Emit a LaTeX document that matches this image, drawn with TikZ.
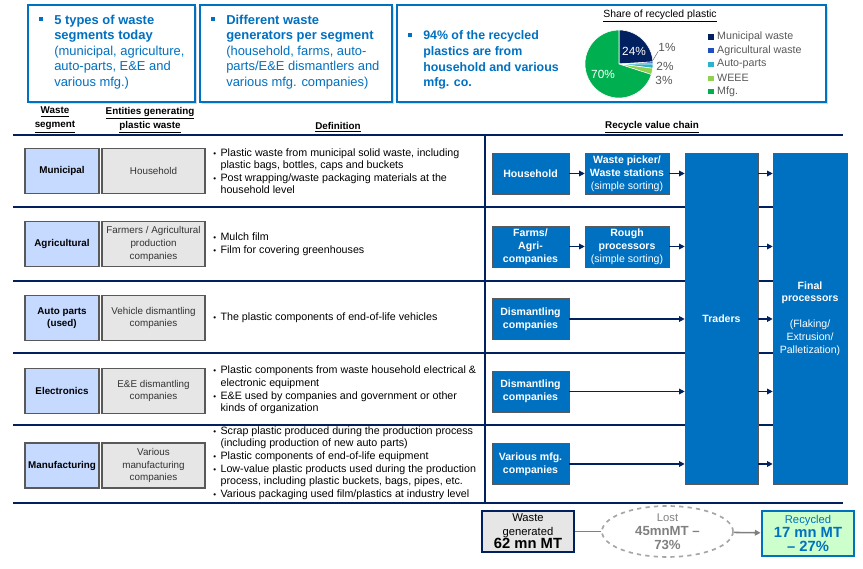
\documentclass[tikz,border=0pt]{standalone}
\usepackage{fontspec}
\setmainfont{Liberation Sans}
\usetikzlibrary{arrows.meta,positioning,calc,shadows,shapes.geometric}

\definecolor{mainblue}{HTML}{0070C0}
\definecolor{navy}{HTML}{002060}
\definecolor{segblue}{HTML}{C6D9FF}
\definecolor{entgrey}{HTML}{E6E6E6}
\definecolor{edgegrey}{HTML}{595959}
\definecolor{txtgrey}{HTML}{595959}
\definecolor{lostgrey}{HTML}{A6A6A6}
\definecolor{recgreen}{HTML}{CCFFCC}
\definecolor{pieagri}{HTML}{1F4FC1}
\definecolor{pieauto}{HTML}{2DB3C9}
\definecolor{pieweee}{HTML}{92D050}
\definecolor{piemfg}{HTML}{00B050}

\newcommand{\fs}[2]{\fontsize{#1}{#2}\selectfont}
\newcommand{\bitem}{\makebox[5.2pt][l]{\scalebox{0.75}{\textbullet}}}
\newcommand{\bcont}{\hspace*{5.2pt}}

\begin{document}
\begin{tikzpicture}[
x=0.025cm, y=-0.025cm,
topbox/.style={draw=mainblue, line width=2pt, fill=white, inner sep=0,
  drop shadow={shadow xshift=1.5pt, shadow yshift=-1.5pt, opacity=0.3}},
tbtext/.style={anchor=north west, align=left, inner sep=0, text=mainblue, font=\fs{9.2}{11}},
sqbullet/.style={fill=mainblue, inner sep=0, minimum size=3.3pt},
hdr/.style={font=\fs{7}{10}\bfseries, align=center, inner sep=0},
segbox/.style={draw=edgegrey, line width=1.4pt, fill=segblue, minimum width=1.85cm, minimum height=1.125cm,
  font=\fs{7}{9}\bfseries, align=center, inner sep=0},
entbox/.style={draw=edgegrey, line width=1.4pt, fill=entgrey, minimum width=2.575cm, minimum height=1.125cm,
  font=\fs{7}{9}, align=center, text=black!80, inner sep=0},
deftext/.style={anchor=west, align=left, inner sep=0, font=\fs{7.6}{8.9}},
chain/.style={draw=edgegrey, fill=mainblue, text=white, font=\fs{7.5}{9.2}\bfseries, align=center,
  minimum width=1.925cm, minimum height=1.025cm, inner sep=1pt},
rule/.style={navy, line width=0.9pt},
arr/.style={navy, line width=0.8pt, -{Triangle[length=4pt,width=4pt]}},
legsq/.style={inner sep=0, minimum size=3.6pt},
legtext/.style={font=\fs{7.6}{9}, text=txtgrey, inner sep=0, anchor=west},
pielab/.style={font=\fs{8.4}{9}, inner sep=0},
greyline/.style={draw=gray, line width=1.1pt},
greyarr/.style={greyline, -{Triangle[length=4pt,width=4pt]}}
]
\useasboundingbox (0,0) rectangle (863,569);

% Top summary boxes
\node[topbox, minimum width=4.175cm, minimum height=2.425cm] (tb1) at (111.5,53.5) {};
\node[topbox, minimum width=4.8cm, minimum height=2.425cm] (tb2) at (296,53.5) {};
\node[topbox, minimum width=10.725cm, minimum height=2.425cm] (tb3) at (611.5,53.5) {};

\node[sqbullet] (b1) at (41,19) {};
\node[tbtext] (t1) at (54,14.5) {\bfseries 5 types of waste\\\bfseries segments today\\(municipal, agriculture,\\auto-parts, E\&E and\\various mfg.)};
\node[sqbullet] (b2) at (213,19) {};
\node[tbtext] (t2) at (226,14.5) {\bfseries Different waste\\\bfseries generators per segment\\(household, farms, auto-\\parts/E\&E dismantlers and\\various mfg. companies)};
\node[sqbullet] (b3) at (410,35) {};
\node[tbtext, font=\fs{8.8}{11.2}\bfseries] (t3) at (423,30.5) {94\% of the recycled\\plastics are from\\household and various\\mfg. co.};

% Pie chart
\node[font=\fs{7.4}{9}, inner sep=0] (ptitle) at (660,16) {\underline{Share of recycled plastic}};
\begin{scope}[shift={(619,64)}, x=0.025cm, y=0.025cm, draw=white, line width=0.4pt]
\filldraw[fill=navy] (0,0) -- (90:34) arc[start angle=90, end angle=3.6, radius=34] -- cycle;
\filldraw[fill=pieagri] (0,0) -- (3.6:34) arc[start angle=3.6, end angle=0, radius=34] -- cycle;
\filldraw[fill=pieauto] (0,0) -- (0:34) arc[start angle=0, end angle=-7.2, radius=34] -- cycle;
\filldraw[fill=pieweee] (0,0) -- (-7.2:34) arc[start angle=-7.2, end angle=-18, radius=34] -- cycle;
\filldraw[fill=piemfg] (0,0) -- (-18:34) arc[start angle=-18, end angle=-270, radius=34] -- cycle;
\end{scope}
\node[pielab, text=white] (p24) at (634,51) {24\%};
\node[pielab, text=white] (p70) at (603,74) {70\%};
\node[pielab, text=txtgrey] (p1) at (667,47) {1\%};
\node[pielab, text=txtgrey] (p2) at (665,66) {2\%};
\node[pielab, text=txtgrey] (p3) at (664,80) {3\%};
\coordinate (l1) at (653,60);
\draw[txtgrey, line width=0.3pt] (l1) -- (p1.south west);

% Legend
\foreach \c/\t [count=\i] in {navy/Municipal waste, pieagri/Agricultural waste, pieauto/Auto-parts, pieweee/WEEE, piemfg/Mfg.}{
  \node[legsq, fill=\c] (lq\i) at (711,23.3+13.7*\i) {};
  \node[legtext, right=2.2pt of lq\i] (lt\i) {\t};
}

% Column headers
\node[hdr] (h1) at (55,120) {\underline{Waste}\\\underline{segment}};
\node[hdr] (h2) at (150,120) {\underline{Entities generating}\\\underline{plastic waste}};
\node[hdr] (h3) at (338,127) {\underline{Definition}};
\node[hdr] (h4) at (652,127) {\underline{Recycle value chain}};

% Table rules
\foreach \y in {135,207,281,353,425,503}
  \draw[rule] (13,\y) -- (843,\y);
\draw[rule] (485,135) -- (485,503);

% Segments and entities
\node[segbox] (s1) at (62,171) {Municipal};
\node[entbox] (e1) at (153.5,171) {Household};
\node[segbox] (s2) at (62,244) {Agricultural};
\node[entbox] (e2) at (153.5,244) {Farmers / Agricultural\\production\\companies};
\node[segbox] (s3) at (62,318) {Auto parts\\(used)};
\node[entbox] (e3) at (153.5,318) {Vehicle dismantling\\companies};
\node[segbox] (s4) at (62,391) {Electronics};
\node[entbox] (e4) at (153.5,391) {E\&E dismantling\\companies};
\node[segbox] (s5) at (62,465.5) {Manufacturing};
\node[entbox] (e5) at (153.5,465.5) {Various\\manufacturing\\companies};

% Definitions
\node[deftext] (d1) at (213,171) {\bitem Plastic waste from municipal solid waste, including\\\bcont plastic bags, bottles, caps and buckets\\\bitem Post wrapping/waste packaging materials at the\\\bcont household level};
\node[deftext] (d2) at (213,244) {\bitem Mulch film\\\bitem Film for covering greenhouses};
\node[deftext] (d3) at (213,318) {\bitem The plastic components of end-of-life vehicles};
\node[deftext] (d4) at (213,390) {\bitem Plastic components from waste household electrical \&\\\bcont electronic equipment\\\bitem E\&E used by companies and government or other\\\bcont kinds of organization};
\node[deftext] (d5) at (213,463) {\bitem Scrap plastic produced during the production process\\\bcont (including production of new auto parts)\\\bitem Plastic components of end-of-life equipment\\\bitem Low-value plastic products used during the production\\\bcont process, including plastic buckets, bags, pipes, etc.\\\bitem Various packaging used film/plastics at industry level};

% Recycle value chain
\node[chain] (hh) at (530.5,173.5) {Household};
\node[chain, minimum width=2.1cm] (wp) at (627,173.5) {Waste picker/\\Waste stations\\\mdseries(simple sorting)};
\node[chain] (fa) at (530.5,246.5) {Farms/\\Agri-\\companies};
\node[chain, minimum width=2.1cm] (rp) at (627,246.5) {Rough\\processors\\\mdseries(simple sorting)};
\node[chain] (dc1) at (530.5,319) {Dismantling\\companies};
\node[chain] (dc2) at (530.5,391.5) {Dismantling\\companies};
\node[chain] (vm) at (530.5,464) {Various mfg.\\companies};
\node[chain, minimum width=1.825cm, minimum height=8.275cm] (tr) at (721.5,318.5) {Traders};
\node[chain, minimum width=1.85cm, minimum height=8.275cm] (fp) at (810,318.5)
  {Final\\processors\\[9pt]\mdseries(Flaking/\\\mdseries Extrusion/\\\mdseries Palletization)};

% Connections
\draw[arr] (hh) -- (wp);
\draw[arr] (wp) -- (wp -| tr.west);
\draw[arr] (fa) -- (rp);
\draw[arr] (rp) -- (rp -| tr.west);
\draw[arr] (dc1) -- (dc1 -| tr.west);
\draw[arr] (dc2) -- (dc2 -| tr.west);
\draw[arr] (vm) -- (vm -| tr.west);
\foreach \n in {wp,rp,dc1,dc2,vm}
  \draw[arr] (tr.east |- \n) -- (fp.west |- \n);

% Totals
\node[draw=navy, line width=1.6pt, fill=entgrey, minimum width=2.3cm, minimum height=1.025cm, align=center,
  inner sep=0, font=\fs{8}{9.6}] (wg) at (528,531.5) {Waste\\generated\\\fs{10.5}{9.6}\bfseries 62 mn MT};
\node[ellipse, draw=lostgrey, dashed, line width=1.2pt, minimum width=3.275cm, minimum height=1.125cm, align=center,
  inner sep=0, text=gray, font=\fs{8}{10}] (lost) at (667.5,531.5)
  {Lost\\\fs{9.4}{10}\bfseries 45mnMT --\\\fs{9.4}{10}\bfseries 73\%};
\node[draw=mainblue, line width=2pt, fill=recgreen, minimum width=2.3cm, minimum height=1.125cm, align=center,
  inner sep=0, text=mainblue, font=\fs{8}{10}] (rec) at (808,533.5)
  {Recycled\\\fs{10.5}{10.5}\bfseries 17 mn MT\\\fs{10.5}{10.5}\bfseries -- 27\%};
\draw[greyline] (wg) -- (lost);
\draw[greyarr] (lost) -- (rec);

\end{tikzpicture}
\end{document}
